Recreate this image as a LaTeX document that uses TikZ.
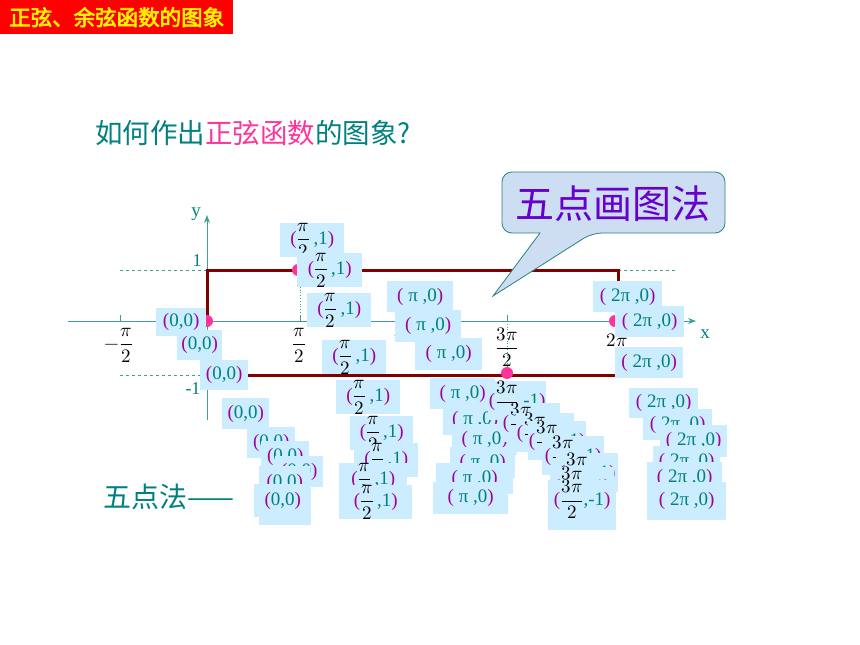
\documentclass[tikz,border=0pt]{standalone}
\usepackage{amsmath}
\usepackage{fontspec}
\usepackage{unicode-math}
\setmathfont{Latin Modern Math}
\setmainfont{Liberation Serif}
\newfontfamily\cjk{Noto Sans CJK SC}
\newfontfamily\cjkb[FakeBold=3]{Noto Sans CJK SC}
\usetikzlibrary{arrows.meta}
\definecolor{tl}{RGB}{0,128,128}
\definecolor{pm}{RGB}{160,0,160}
\definecolor{pk}{RGB}{255,51,153}
\definecolor{boxc}{RGB}{204,236,255}
\definecolor{axc}{RGB}{60,160,150}
\definecolor{dred}{RGB}{128,0,0}
\definecolor{dotc}{RGB}{255,51,153}
\definecolor{cf}{RGB}{205,222,242}
\definecolor{cb}{RGB}{40,130,130}
\definecolor{pu}{RGB}{102,0,204}
\newcommand\pz[1]{{\color{pm}(}{\color{tl}#1}{\color{pm})}}
\newcommand\fr[2]{{\color{black}$\displaystyle\frac{#1}{#2}$}}
\newcommand\bx[6]{\node[lbl,minimum width=#4pt,minimum height=#5pt] (#1) at (#2,#3) {#6};}
\tikzset{
  lbl/.style={fill=boxc,inner sep=0pt,anchor=north west,text=tl,font=\fontsize{19}{22}\selectfont},
  axis/.style={draw=axc,line width=1pt},
  guide/.style={draw=axc,dashed,line width=0.6pt},
  dotted guide/.style={draw=axc,dotted,line width=0.8pt},
  wave/.style={draw=dred,line width=3pt},
  dot/.style={circle,fill=dotc,inner sep=0pt,minimum size=12pt},
  tick label/.style={inner sep=0pt,font=\fontsize{19}{22}\selectfont},
}
\begin{document}
\begin{tikzpicture}[x=1pt,y=-1pt]
\useasboundingbox (0,0) rectangle (860,645);
% title
\node[fill=red,minimum width=233pt,minimum height=34pt,anchor=north west,inner sep=0pt] (title) at (0,0) {\cjkb\fontsize{21.5}{24}\selectfont\color{yellow}正弦、余弦函数的图象};
% question
\node[anchor=west,inner sep=0pt] (q) at (95,133) {\cjk\fontsize{27.5}{30}\selectfont\color{tl}如何作出{\color{pk}正弦函数}的图象?};
\node[anchor=west,inner sep=0pt] (wd) at (103,497) {\cjk\fontsize{28}{30}\selectfont\color{tl}五点法——};
% guides
\coordinate (g1l) at (120,270); \coordinate (g1r) at (677,270);
\coordinate (g2l) at (120,375); \coordinate (g2r) at (615,375);
\draw[guide] (g1l) -- (g1r);
\draw[guide] (g2l) -- (g2r);
\coordinate (v1t) at (300,270); \coordinate (v1b) at (300,321);
\coordinate (v2t) at (507,321); \coordinate (v2b) at (507,375);
\draw[dotted guide] (v1t) -- (v1b);
\draw[dotted guide] (v2t) -- (v2b);
% axes
\coordinate (xl) at (68,321); \coordinate (xr) at (696,321);
\coordinate (yb) at (207,420); \coordinate (yt) at (207,215);
\draw[axis,-{Stealth[length=8pt,width=6pt]}] (xl) -- (xr);
\draw[axis,-{Stealth[length=8pt,width=6pt]}] (yb) -- (yt);
\foreach \t in {120,300,507}{\draw[axis] (\t,321) -- (\t,315);}
\node[text=tl,font=\fontsize{19}{20}\selectfont] (xlab) at (705,334) {x};
\node[text=tl,font=\fontsize{19}{20}\selectfont] (ylab) at (196,214) {y};
\node[text=tl,font=\fontsize{18}{20}\selectfont] (one) at (197,261) {1};
\node[text=tl,font=\fontsize{18}{20}\selectfont] (mone) at (193,389) {-1};
\node[tick label] (tm) at (119,345) {$\displaystyle-\frac{\pi}{2}$};
\node[tick label] (t1) at (299,345) {$\displaystyle\frac{\pi}{2}$};
\node[tick label] (t2) at (400,338) {$\pi$};
\node[tick label] (t3) at (507,347) {$\displaystyle\frac{3\pi}{2}$};
\node[tick label] (t4) at (617,340) {$2\pi$};
% square wave
\coordinate (w0) at (207,321); \coordinate (w1) at (207,270);
\coordinate (w2) at (618,270); \coordinate (w3) at (618,324);
\coordinate (w4) at (207,375); \coordinate (w5) at (615,375);
\draw[wave] (w0) -- (w1) -- (w2) -- (w3);
\draw[wave] (w4) -- (w5);
\node[dot] (d0) at (207,321) {};
\node[dot] (d1) at (298,270) {};
\node[dot] (d3) at (507,373) {};
\node[dot] (d4) at (615,321) {};
% callout
\draw[fill=cf,draw=cb,line width=0.8pt,rounded corners=10pt] (502,172) -- (725,172) -- (725,233) -- (592,233) [sharp corners] -- (493,296) -- (540,233) [rounded corners=10pt] -- (502,233) -- cycle;
\node[text=pu,font=\cjk\fontsize{39}{40}\selectfont] (callout) at (613,204) {五点画图法};
% (0,0) boxes
\bx{a1}{156}{308}{50}{28}{\pz{0,0}}
\bx{a2}{177}{330}{45}{30}{\pz{0,0}}
\bx{a3}{200}{360}{48}{30}{\pz{0,0}}
\bx{a4}{222}{398}{47}{31}{\pz{0,0}}
\bx{a5}{247}{427}{48}{31}{\pz{0,0}}
\bx{a6}{261}{441}{48}{31}{\pz{0,0}}
\bx{a7}{275}{456}{48}{31}{\pz{0,0}}
\bx{a8}{259}{466}{51}{34}{\pz{0,0}}
\bx{a9a}{259}{492}{52}{33}{}
\bx{a9}{254}{484}{57}{33}{\pz{0,0}}
% (pi/2,1) boxes
\bx{p1}{280}{223}{64}{32}{\pz{\fr{\pi}{2}\,,1}}
\bx{p2}{297}{253}{65}{33}{\pz{\fr{\pi}{2}\,,1}}
\bx{p3}{307}{293}{64}{33}{\pz{\fr{\pi}{2}\,,1}}
\bx{p4}{322}{340}{64}{33}{\pz{\fr{\pi}{2}\,,1}}
\bx{p5}{336}{380}{64}{33}{\pz{\fr{\pi}{2}\,,1}}
\bx{p6}{350}{416}{63}{32}{\pz{\fr{\pi}{2}\,,1}}
\bx{p7}{354}{443}{64}{33}{\pz{\fr{\pi}{2}\,,1}}
\bx{p8}{339}{463}{68}{34}{\pz{\fr{\pi}{2}\,,1}}
\bx{p9}{339}{485}{73}{32}{\pz{\fr{\pi}{2}\,,1}}
% (pi,0) boxes
\bx{q1}{387}{281}{66}{31}{\pz{\ π\ ,0}}
\bx{q2}{395}{310}{66}{32}{\pz{\ π\ ,0}}
\bx{q3}{415}{338}{67}{32}{\pz{\ π\ ,0}}
\bx{q4}{430}{378}{65}{31}{\pz{\ π\ ,0}}
\bx{q5}{443}{404}{64}{31}{\pz{\ π\ ,0}}
\bx{q6}{452}{424}{65}{31}{\pz{\ π\ ,0}}
\bx{q7}{450}{447}{65}{31}{\pz{\ π\ ,0}}
\bx{q8}{436}{463}{77}{31}{\pz{\ π\ ,0}}
\bx{q9}{433}{482}{75}{32}{\pz{\ π\ ,0}}
% (3pi/2,-1) boxes
\bx{r1}{488}{381}{58}{34}{\pz{\fr{3\pi}{2},-1}}
\bx{r2}{502}{403}{58}{34}{\pz{\fr{3\pi}{2},-1}}
\bx{r3}{516}{413}{58}{34}{\pz{\fr{3\pi}{2},-1}}
\bx{r4}{528}{421}{58}{34}{\pz{\fr{3\pi}{2},-1}}
\bx{r5}{542}{436}{62}{34}{\pz{\fr{3\pi}{2},-1}}
\bx{r6}{556}{453}{62}{34}{\pz{\fr{3\pi}{2},-1}}
\bx{r7}{550}{467}{64}{34}{\pz{\fr{3\pi}{2},-1}}
\bx{r8a}{548}{496}{68}{34}{}
\bx{r8}{548}{480}{68}{34}{\pz{\fr{3\pi}{2},-1}}
% (2pi,0) boxes
\bx{s1}{593}{281}{69}{31}{\pz{\ 2π\ ,0}}
\bx{s2}{615}{306}{69}{31}{\pz{\ 2π\ ,0}}
\bx{s3}{615}{347}{68}{31}{\pz{\ 2π\ ,0}}
\bx{s4}{629}{388}{69}{30}{\pz{\ 2π\ ,0}}
\bx{s5}{643}{409}{69}{31}{\pz{\ 2π\ ,0}}
\bx{s6}{660}{425}{67}{32}{\pz{\ 2π\ ,0}}
\bx{s7}{653}{446}{67}{32}{\pz{\ 2π\ ,0}}
\bx{s8}{647}{462}{75}{32}{\pz{\ 2π\ ,0}}
\bx{s9}{647}{482}{79}{38}{\pz{\ 2π\ ,0}}
\end{tikzpicture}
\end{document}
